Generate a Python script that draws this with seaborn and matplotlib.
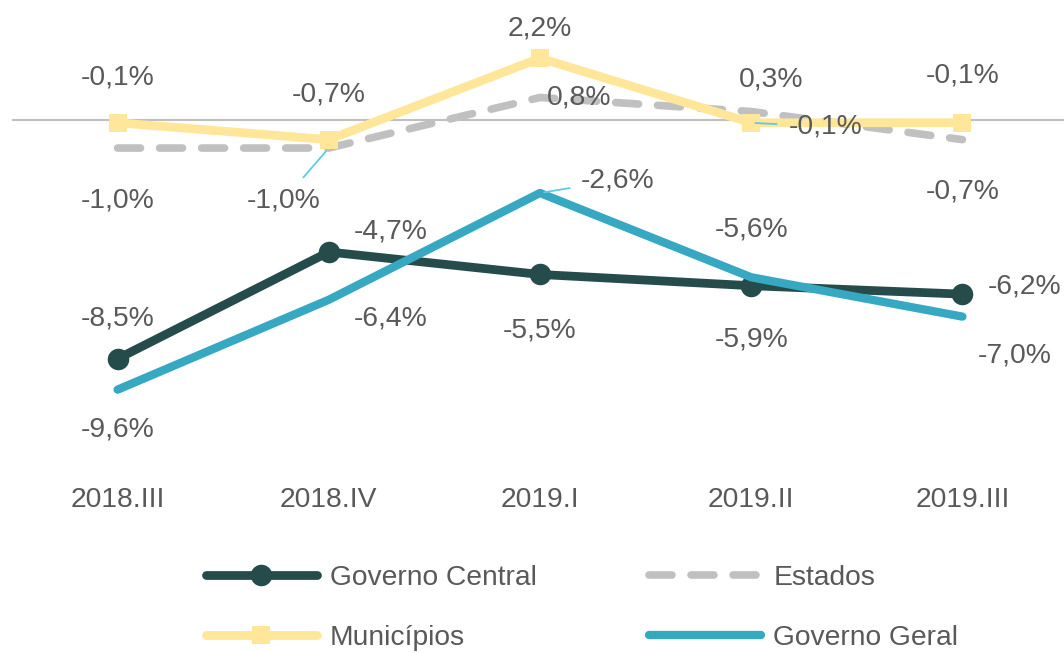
import matplotlib
matplotlib.use("Agg")
import matplotlib.pyplot as plt
import seaborn as sns
import pandas as pd

quarters = ["2018.III", "2018.IV", "2019.I", "2019.II", "2019.III"]
governo_central = [-8.5, -4.7, -5.5, -5.9, -6.2]
estados = [-1.0, -1.0, 0.8, 0.3, -0.7]
municipios = [-0.1, -0.7, 2.2, -0.1, -0.1]
governo_geral = [-9.6, -6.4, -2.6, -5.6, -7.0]

sns.set_style("white")
plt.rcParams["font.family"] = ["Liberation Sans", "DejaVu Sans"]

TXT = "#595959"
C_CENTRAL = "#264B4B"
C_ESTADOS = "#C0C0C0"
C_MUNI = "#FFE699"
C_GERAL = "#37A8C2"
C_LEADER = "#5CCBE3"
FS = 20.3

fig = plt.figure(figsize=(10.64, 6.53), dpi=100)
ax = fig.add_axes([12 / 1064, 1 - 470 / 653, 1056 / 1064, 470 / 653])

ax.axhline(0, color="#BFBFBF", lw=1.5, zorder=1)

pos = list(range(len(quarters)))

sns.lineplot(x=pos, y=governo_central, ax=ax, color=C_CENTRAL, lw=6.3,
             marker="o", markersize=15.5, markeredgewidth=0, zorder=3,
             label="Governo Central", sort=False, solid_capstyle="round")
sns.lineplot(x=pos, y=estados, ax=ax, color=C_ESTADOS, lw=5.5,
             linestyle=(0, (3.0, 2.5)), dash_capstyle="round", zorder=4,
             label="Estados", sort=False)
sns.lineplot(x=pos, y=municipios, ax=ax, color=C_MUNI, lw=6.3,
             marker="s", markersize=13.5, markeredgewidth=0, zorder=5,
             label="Municípios", sort=False)
sns.lineplot(x=pos, y=governo_geral, ax=ax, color=C_GERAL, lw=6.0,
             zorder=6, label="Governo Geral", sort=False, solid_capstyle="round")

ax.set_xlim(-0.5, 4.5)
ax.set_ylim(-12.46, 4.27)
ax.set_xticks(pos)
ax.set_xticklabels(quarters, fontsize=FS, color=TXT)
ax.tick_params(axis="x", length=0, pad=12)
ax.set_yticks([])
ax.set_xlabel("")
ax.set_ylabel("")
for s in ax.spines.values():
    s.set_visible(False)


def fmt(v):
    return f"{v:.1f}%".replace(".", ",")


off_central = [(0, 40), (62, 20), (0, -56), (0, -54), (62, 8)]
off_geral = [(0, -40), (62, -19), (78, 13), (0, 48), (52, -39)]
off_estados = [(0, -52), (-45, -52), (39, 0), (20, 32), (0, -52)]
off_muni = [(0, 45), (0, 45), (0, 30), (74, -4), (0, 47)]

leaders = {("estados", 1), ("geral", 2), ("muni", 3)}

for name, vals, offs in [("central", governo_central, off_central),
                         ("geral", governo_geral, off_geral),
                         ("estados", estados, off_estados),
                         ("muni", municipios, off_muni)]:
    for i, (v, o) in enumerate(zip(vals, offs)):
        kw = {}
        if (name, i) in leaders:
            kw["arrowprops"] = dict(arrowstyle="-", color=C_LEADER, lw=1.3,
                                    shrinkA=6, shrinkB=3)
        ax.annotate(fmt(v), xy=(i, v), xytext=o, textcoords="offset pixels",
                    ha="center", va="center", fontsize=FS, color=TXT,
                    zorder=10, annotation_clip=False, **kw)

h, l = ax.get_legend_handles_labels()
if ax.get_legend():
    ax.get_legend().remove()
order = [0, 2, 1, 3]
leg = fig.legend([h[i] for i in order], [l[i] for i in order], ncol=2,
                 loc="center", bbox_to_anchor=(582 / 1064, 1 - 608 / 653),
                 frameon=False, fontsize=FS, handlelength=3.95,
                 handletextpad=0.45, columnspacing=4.0, labelspacing=1.2,
                 borderpad=0)
for t in leg.get_texts():
    t.set_color(TXT)

fig.savefig("out.png", dpi=100)
